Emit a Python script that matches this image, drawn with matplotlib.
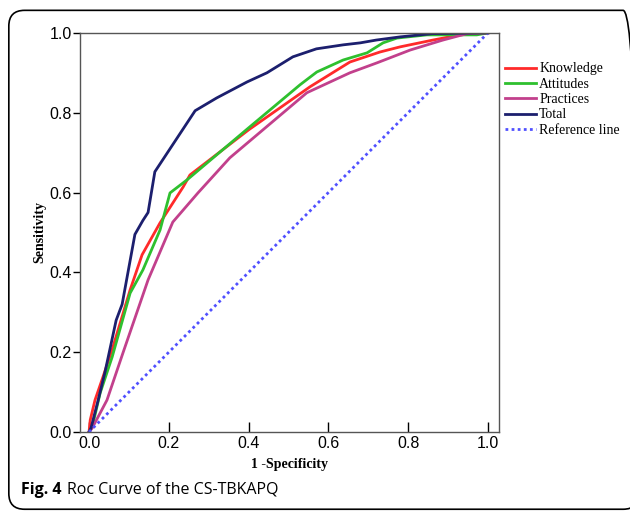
import matplotlib.pyplot as plt
from matplotlib.patches import FancyBboxPatch

# ROC data (1 - specificity, sensitivity)
know_x = [0, 0.003, 0.015, 0.035, 0.06, 0.103, 0.133, 0.178, 0.236, 0.253, 0.40, 0.554, 0.654, 0.729, 0.78, 0.862, 0.93, 1.0]
know_y = [0, 0.03, 0.08, 0.138, 0.213, 0.356, 0.444, 0.524, 0.614, 0.644, 0.757, 0.865, 0.927, 0.952, 0.965, 0.982, 0.995, 1.0]

att_x = [0, 0.008, 0.028, 0.058, 0.103, 0.135, 0.178, 0.203, 0.246, 0.40, 0.529, 0.571, 0.637, 0.697, 0.737, 0.772, 0.847, 0.972, 1.0]
att_y = [0, 0.013, 0.098, 0.188, 0.348, 0.406, 0.506, 0.599, 0.632, 0.762, 0.87, 0.902, 0.932, 0.95, 0.975, 0.987, 0.995, 0.995, 1.0]

prac_x = [0, 0.008, 0.045, 0.085, 0.148, 0.21, 0.273, 0.353, 0.546, 0.654, 0.722, 0.805, 0.887, 0.947, 1.0]
prac_y = [0, 0.01, 0.08, 0.198, 0.381, 0.526, 0.599, 0.687, 0.85, 0.9, 0.925, 0.957, 0.982, 0.998, 1.0]

tot_x = [0, 0.005, 0.023, 0.04, 0.068, 0.083, 0.115, 0.135, 0.148, 0.165, 0.266, 0.32, 0.396, 0.446, 0.511, 0.57, 0.637, 0.68, 0.72, 0.78, 0.86, 1.0]
tot_y = [0, 0.01, 0.08, 0.15, 0.28, 0.32, 0.495, 0.53, 0.55, 0.652, 0.805, 0.837, 0.877, 0.9, 0.94, 0.96, 0.97, 0.975, 0.982, 0.99, 0.998, 1.0]

ref = [0, 1]
ticks = [0.0, 0.2, 0.4, 0.6, 0.8, 1.0]

fig = plt.figure(figsize=(6.3, 5.17), dpi=100)

# rounded frame around the whole figure
frame = FancyBboxPatch((0.014, 0.015), 1.0, 0.965, boxstyle="round,pad=0,rounding_size=0.025",
                       transform=fig.transFigure, fill=False, edgecolor='black', linewidth=1.2,
                       mutation_aspect=630 / 517)
fig.patches.append(frame)

ax = fig.add_axes([0.127, 0.1644, 0.665, 0.772])

ax.plot(know_x, know_y, color='#ff2a2a', lw=2, label='Knowledge')
ax.plot(att_x, att_y, color='#2ec02e', lw=2, label='Attitudes')
ax.plot(prac_x, prac_y, color='#c2408c', lw=2, label='Practices')
ax.plot(tot_x, tot_y, color='#1c1f6e', lw=2, label='Total')
ax.plot(ref, ref, color='#5050ff', lw=2, ls=(0, (1, 1.2)), label='Reference line')

ax.set_xlim(-0.0226, 1.0276)
ax.set_ylim(0, 1)
ax.set_xticks(ticks)
ax.set_yticks(ticks)
ax.set_xticklabels([f'{t:.1f}' for t in ticks], fontsize=11.5, family='Liberation Sans')
ax.set_yticklabels([f'{t:.1f}' for t in ticks], fontsize=11.5, family='Liberation Sans')
ax.tick_params(axis='x', direction='in', length=7, width=1, pad=3)
ax.tick_params(axis='y', direction='out', length=5, width=1, pad=1)
for s in ax.spines.values():
    s.set_color('#555555')
    s.set_linewidth(1)

ax.set_xlabel('1 -Specificity', family='Liberation Serif', fontweight='bold', fontsize=10, labelpad=5)
ax.set_ylabel('Sensitivity', family='Liberation Serif', fontweight='bold', fontsize=10, labelpad=2)

leg = ax.legend(loc='upper left', bbox_to_anchor=(1.0, 0.94), frameon=False,
                prop={'family': 'Liberation Serif', 'size': 10}, handlelength=2.3,
                handletextpad=0.2, labelspacing=0.17, borderaxespad=0)

fig.text(0.033, 0.045, 'Fig. 4', family='Open Sans', fontweight='bold', fontsize=11.5)
fig.text(0.107, 0.045, 'Roc Curve of the CS-TBKAPQ', family='Open Sans', fontsize=11.5)

fig.savefig('out.png', dpi=100)
